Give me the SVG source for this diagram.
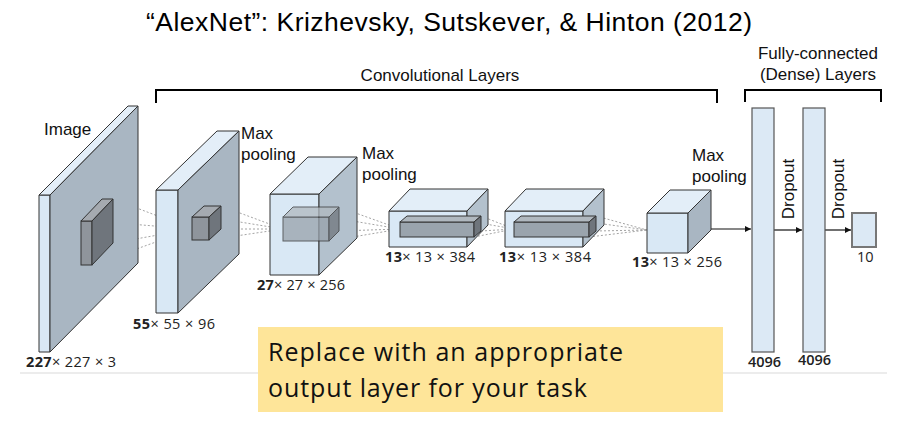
<svg xmlns="http://www.w3.org/2000/svg" width="898" height="425" viewBox="0 0 898 425">
<defs>
<marker id="ah" viewBox="0 0 8 8" refX="8" refY="4" markerWidth="6" markerHeight="6" orient="auto" markerUnits="userSpaceOnUse">
<path d="M0,0 L8,4 L0,8 z" fill="#111"/>
</marker>
</defs>
<style>
.lbl{font-family:"Liberation Sans",Arial,sans-serif;font-size:17px;fill:#111}
.dim{font-family:"Open Sans","Liberation Sans",sans-serif;font-size:14.5px;fill:#222}
.dim tspan.b{font-weight:bold}
.fr{fill:#d9e8f5;stroke:#333;stroke-width:1;stroke-linejoin:round}
.sd{fill:#a9b6c2;stroke:#333;stroke-width:1;stroke-linejoin:round}
.tp{fill:#e3eef8;stroke:#333;stroke-width:1;stroke-linejoin:round}
.ifr{fill:#8f959c;stroke:#333;stroke-width:1}
.isd{fill:#6f757c;stroke:#333;stroke-width:1}
.itp{fill:#a5aab0;stroke:#333;stroke-width:1}
.dash{stroke:#9a9a9a;stroke-width:0.9;stroke-dasharray:2 2;fill:none}
.arr{stroke:#111;stroke-width:1.2;fill:none;marker-end:url(#ah)}
.br{stroke:#000;stroke-width:2;fill:none}
.dense{fill:#dce9f5;stroke:#555;stroke-width:1.2}
</style>
<rect width="898" height="425" fill="#fff"/>
<line x1="20" y1="373" x2="887" y2="373" stroke="#d9d9d9" stroke-width="1"/>

<text x="449" y="31" text-anchor="middle" font-family="Liberation Sans,Arial,sans-serif" font-size="26.5" fill="#000" textLength="606">“AlexNet”: Krizhevsky, Sutskever, &amp; Hinton (2012)</text>

<g id="conv-bracket">
<path class="br" d="M156,103 V90 H717 V103"/>
<text class="lbl" x="440" y="81" text-anchor="middle">Convolutional Layers</text>
</g>
<g id="fc-bracket">
<path class="br" d="M745,102 V90 H881 V102"/>
<text class="lbl" x="818" y="59" text-anchor="middle" font-size="16">Fully-connected</text>
<text class="lbl" x="818" y="80" text-anchor="middle" font-size="16">(Dense) Layers</text>
</g>

<g id="connectors">
<path class="dash" d="M92,221 L192,229 M113,199 L192,229 M92,265 L192,229 M113,243 L192,229"/>
<path class="dash" d="M209,217 L283,229 M221,206 L283,229 M209,240 L283,229 M221,229 L283,229"/>
<path class="dash" d="M329,217 L400,229 M339,207 L400,229 M329,241 L400,229 M339,231 L400,229"/>
<path class="dash" d="M474,222 L514,229 M481,216 L514,229 M474,237 L514,229 M481,231 L514,229"/>
<path class="dash" d="M589,222 L647,230 M596,216 L647,230 M589,237 L647,230 M596,231 L647,230"/>
<line class="arr" x1="711" y1="229" x2="751" y2="229"/>
<line class="arr" x1="774" y1="230" x2="802" y2="230"/>
<line class="arr" x1="825" y1="230" x2="851" y2="230"/>
</g>

<g id="image">
<rect class="fr" x="39" y="195" width="11" height="157"/>
<polygon class="tp" points="39,195 50,195 138,106 128,106"/>
<polygon class="sd" points="50,195 138,106 138,263 50,352"/>
<rect class="ifr" x="81" y="221" width="11" height="44"/>
<polygon class="itp" points="81,221 92,221 113,199 102,199"/>
<polygon class="isd" points="92,221 113,199 113,243 92,265"/>
<text class="lbl" x="44" y="135" font-size="18">Image</text>
<text class="dim" x="26" y="367" textLength="90"><tspan class="b">227</tspan>× 227 × 3</text>
</g>

<g id="conv1">
<rect class="fr" x="156" y="190" width="22" height="123"/>
<polygon class="tp" points="156,190 178,190 239,131 217,131"/>
<polygon class="sd" points="178,190 239,131 239,254 178,313"/>
<rect class="ifr" x="192" y="217" width="17" height="23"/>
<polygon class="itp" points="192,217 209,217 221,206 204,206"/>
<polygon class="isd" points="209,217 221,206 221,229 209,240"/>
<text class="lbl" x="241" y="139">Max</text>
<text class="lbl" x="241" y="160">pooling</text>
<text class="dim" x="133" y="329" textLength="82"><tspan class="b">55</tspan>× 55 × 96</text>
</g>

<g id="conv2">
<rect class="fr" x="270" y="194" width="49" height="81"/>
<polygon class="tp" points="270,194 319,194 357,157 308,157"/>
<polygon class="sd" points="319,194 357,157 357,238 319,275" style="fill:#b3c1cd"/>
<g opacity="0.75">
<rect class="ifr" x="283" y="217" width="46" height="24" style="fill:#98a2ab"/>
<polygon class="itp" points="283,217 329,217 339,207 293,207" style="fill:#b0b8bf"/>
<polygon class="isd" points="329,217 339,207 339,231 329,241"/>
</g>
<text class="lbl" x="362" y="159">Max</text>
<text class="lbl" x="362" y="180">pooling</text>
<text class="dim" x="257" y="290" textLength="88"><tspan class="b">27</tspan>× 27 × 256</text>
</g>

<g id="conv3">
<rect class="fr" x="389" y="211" width="78" height="36"/>
<polygon class="tp" points="389,211 467,211 488,189 410,189"/>
<polygon class="sd" points="467,211 488,189 488,225 467,247" style="fill:#b3c1cd"/>
<rect class="ifr" x="400" y="222" width="74" height="15" style="fill:#9aa4ad"/>
<polygon class="itp" points="400,222 474,222 481,216 407,216" style="fill:#b0b8bf"/>
<polygon class="isd" points="474,222 481,216 481,231 474,237"/>
<text class="dim" x="385" y="262" textLength="90"><tspan class="b">13</tspan>× 13 × 384</text>
</g>

<g id="conv4">
<rect class="fr" x="505" y="211" width="78" height="36"/>
<polygon class="tp" points="505,211 583,211 604,189 526,189"/>
<polygon class="sd" points="583,211 604,189 604,225 583,247" style="fill:#b3c1cd"/>
<rect class="ifr" x="514" y="222" width="75" height="15" style="fill:#9aa4ad"/>
<polygon class="itp" points="514,222 589,222 596,216 521,216" style="fill:#b0b8bf"/>
<polygon class="isd" points="589,222 596,216 596,231 589,237"/>
<text class="dim" x="499" y="262" textLength="92"><tspan class="b">13</tspan>× 13 × 384</text>
</g>

<g id="conv5">
<rect class="fr" x="647" y="213" width="41" height="40"/>
<polygon class="tp" points="647,213 688,213 711,190 670,190"/>
<polygon class="sd" points="688,213 711,190 711,230 688,253"/>
<text class="lbl" x="692" y="161">Max</text>
<text class="lbl" x="692" y="182">pooling</text>
<text class="dim" x="632" y="267" textLength="90"><tspan class="b">13</tspan>× 13 × 256</text>
</g>

<g id="fc1">
<rect class="dense" x="752" y="108" width="22" height="244"/>
<text class="dim" x="748" y="367" font-size="11.5" font-weight="600">4096</text>
</g>
<g id="dropout1">
<text class="lbl" transform="translate(794,189) rotate(-90)" text-anchor="middle">Dropout</text>
</g>
<g id="fc2">
<rect class="dense" x="803" y="108" width="22" height="244"/>
<text class="dim" x="798" y="365" font-size="11.5" font-weight="600">4096</text>
</g>
<g id="dropout2">
<text class="lbl" transform="translate(844,189) rotate(-90)" text-anchor="middle">Dropout</text>
</g>
<g id="output">
<rect x="852" y="213" width="24" height="34" fill="#dce9f5" stroke="#777" stroke-width="2"/>
<text class="dim" x="857" y="262" font-size="12">10</text>
</g>

<g id="note">
<rect x="258" y="327" width="465" height="85" fill="#fee599"/>
<text x="268" y="361" font-family="Open Sans,Liberation Sans,sans-serif" font-size="25" fill="#111" textLength="355">Replace with an appropriate</text>
<text x="268" y="397" font-family="Open Sans,Liberation Sans,sans-serif" font-size="25" fill="#111" textLength="319">output layer for your task</text>
</g>
</svg>
